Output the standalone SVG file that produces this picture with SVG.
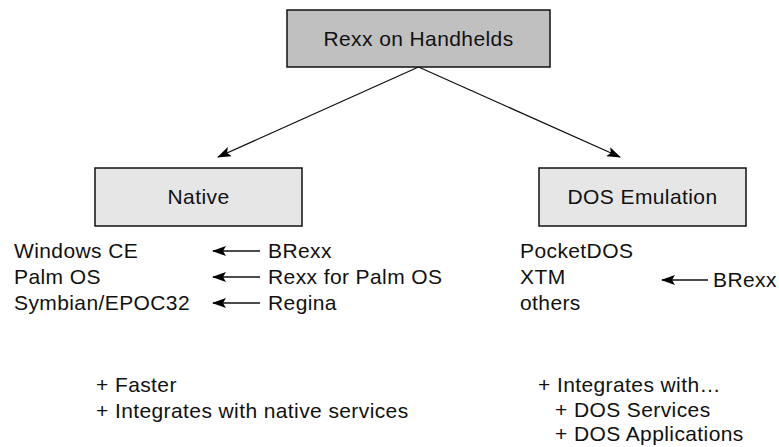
<svg xmlns="http://www.w3.org/2000/svg" width="779" height="447" viewBox="0 0 779 447">
<defs>
<marker id="ah" markerWidth="14" markerHeight="10" refX="13" refY="5" orient="auto" markerUnits="userSpaceOnUse">
<path d="M0,0 L14,5 L0,10 L3,5 Z" fill="#000"/>
</marker>
<style>
text{font-family:"Liberation Sans",Arial,sans-serif;font-size:21px;fill:#111;letter-spacing:0.4px}
.c{text-anchor:middle}
.box{stroke:#111;stroke-width:1.5}
.ln{stroke:#111;stroke-width:1.3;fill:none}
</style>
</defs>
<rect width="779" height="447" fill="#fff"/>
<g id="connectors">
<line class="ln" x1="418.5" y1="67" x2="218" y2="157" marker-end="url(#ah)"/>
<line class="ln" x1="418.5" y1="67" x2="620" y2="157" marker-end="url(#ah)"/>
<line class="ln" x1="260" y1="251" x2="213" y2="251" marker-end="url(#ah)"/>
<line class="ln" x1="260" y1="277" x2="213" y2="277" marker-end="url(#ah)"/>
<line class="ln" x1="260" y1="303" x2="213" y2="303" marker-end="url(#ah)"/>
<line class="ln" x1="708" y1="280" x2="662" y2="280" marker-end="url(#ah)"/>
</g>
<g id="root">
<rect class="box" x="287" y="10" width="263" height="57" fill="#c0c0c0"/>
<text class="c" x="418.5" y="46">Rexx on Handhelds</text>
</g>
<g id="native">
<rect class="box" x="95" y="168" width="207" height="58" fill="#e6e6e6"/>
<text class="c" x="198.5" y="204">Native</text>
</g>
<g id="dos">
<rect class="box" x="539" y="168" width="207" height="58" fill="#e6e6e6"/>
<text class="c" x="642.5" y="204">DOS Emulation</text>
</g>
<g id="native-list">
<text x="14" y="258">Windows CE</text>
<text x="14" y="284">Palm OS</text>
<text x="14" y="310">Symbian/EPOC32</text>
<text x="268" y="258">BRexx</text>
<text x="268" y="284">Rexx for Palm OS</text>
<text x="268" y="310">Regina</text>
</g>
<g id="dos-list">
<text x="520" y="258">PocketDOS</text>
<text x="520" y="284">XTM</text>
<text x="520" y="310">others</text>
<text x="713" y="287">BRexx</text>
</g>
<g id="native-notes">
<text x="96" y="392">+ Faster</text>
<text x="96" y="418">+ Integrates with native services</text>
</g>
<g id="dos-notes">
<text x="538" y="392">+ Integrates with…</text>
<text x="555" y="417">+ DOS Services</text>
<text x="555" y="441">+ DOS Applications</text>
</g>
</svg>
